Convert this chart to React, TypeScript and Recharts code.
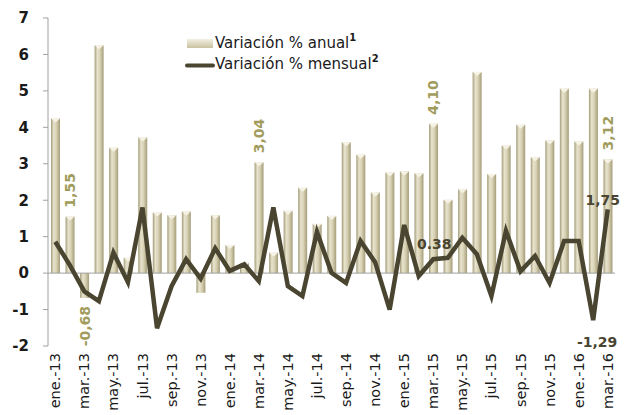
import { ComposedChart, Bar, Line, XAxis, YAxis, ReferenceLine, LabelList } from 'recharts';

const MONTHS = [
  'ene.-13', 'feb.-13', 'mar.-13', 'abr.-13', 'may.-13', 'jun.-13', 'jul.-13', 'ago.-13', 'sep.-13', 'oct.-13', 'nov.-13', 'dic.-13',
  'ene.-14', 'feb.-14', 'mar.-14', 'abr.-14', 'may.-14', 'jun.-14', 'jul.-14', 'ago.-14', 'sep.-14', 'oct.-14', 'nov.-14', 'dic.-14',
  'ene.-15', 'feb.-15', 'mar.-15', 'abr.-15', 'may.-15', 'jun.-15', 'jul.-15', 'ago.-15', 'sep.-15', 'oct.-15', 'nov.-15', 'dic.-15',
  'ene.-16', 'feb.-16', 'mar.-16',
];

// variación % anual (barras)
const ANUAL = [
  4.24, 1.55, -0.68, 6.25, 3.44, 0.42, 3.72, 1.66, 1.59, 1.69, -0.54, 1.59,
  0.77, 0.28, 3.04, 0.56, 1.71, 2.34, 1.35, 1.57, 3.59, 3.25, 2.21, 2.76,
  2.79, 2.74, 4.10, 2.01, 2.30, 5.52, 2.72, 3.50, 4.07, 3.18, 3.64, 5.06,
  3.61, 5.06, 3.12,
];

// variación % mensual (línea)
const MENSUAL = [
  0.86, 0.22, -0.50, -0.77, 0.56, -0.25, 1.80, -1.51, -0.36, 0.38, -0.15, 0.68,
  0.06, 0.24, -0.22, 1.80, -0.36, -0.63, 1.13, 0.01, -0.27, 0.88, 0.30, -1.00,
  1.32, -0.08, 0.38, 0.42, 0.97, 0.52, -0.63, 1.16, 0.05, 0.47, -0.27, 0.88,
  0.88, -1.29, 1.75,
];

const Y_TICKS = [-2, -1, 0, 1, 2, 3, 4, 5, 6, 7];

// etiquetas visibles
const ANUAL_LABEL_IDX = [1, 2, 14, 26, 38];
const ANUAL_LABEL_TXT = ['1,55', '-0,68', '3,04', '4,10', '3,12'];
const MENSUAL_LABEL_IDX = [26, 37, 38];
const MENSUAL_LABEL_TXT = ['0.38', '-1,29', '1,75'];

const data = MONTHS.map((m, i) => ({ mes: m, anual: ANUAL[i], mensual: MENSUAL[i] }));

const FONT = '"DejaVu Sans", Verdana, sans-serif';
const LINE_COLOR = '#4a4530';
const LABEL_OLIVE = '#a19c5c';

function CylBar(props: any) {
  const { x, y, width, height } = props;
  const top = Math.min(y, y + height);
  const h = Math.abs(height);
  if (!h) return null;
  const pos = height >= 0;
  return (
    <g>
      <rect x={x} y={top} width={width} height={h} fill="url(#barGrad)" />
      {pos && (
        <polygon
          points={`${x},${top} ${x + width},${top} ${x + width / 2},${top + 4}`}
          fill="#f6f3e6"
        />
      )}
    </g>
  );
}

function AnualLabel(props: any) {
  const { x, y, width, height, index } = props;
  const k = ANUAL_LABEL_IDX.indexOf(index);
  if (k < 0) return null;
  const cx = x + width / 2;
  const neg = ANUAL[index] < 0;
  const ty = neg ? Math.max(y, y + height) + 8 : Math.min(y, y + height) - 9;
  return (
    <text
      x={cx}
      y={ty}
      transform={`rotate(-90, ${cx}, ${ty})`}
      textAnchor={neg ? 'end' : 'start'}
      dominantBaseline="central"
      fontFamily={FONT}
      fontSize={14}
      fontWeight="bold"
      fill={LABEL_OLIVE}
    >
      {ANUAL_LABEL_TXT[k]}
    </text>
  );
}

function MensualLabel(props: any) {
  const { x, y, index } = props;
  const k = MENSUAL_LABEL_IDX.indexOf(index);
  if (k < 0) return null;
  const neg = MENSUAL[index] < 0;
  const last = index === MONTHS.length - 1;
  const tx = last ? x - 5 : neg ? x + 4 : x + 1;
  const ty = neg ? y + 27 : last ? y - 4 : y - 10;
  return (
    <text x={tx} y={ty} textAnchor="middle" fontFamily={FONT} fontSize={14} fontWeight="bold" fill={LINE_COLOR}>
      {MENSUAL_LABEL_TXT[k]}
    </text>
  );
}

function MonthTick(props: any) {
  const { x, y, payload } = props;
  return (
    <text
      x={x}
      y={y}
      transform={`rotate(-90, ${x}, ${y})`}
      textAnchor="end"
      dominantBaseline="central"
      fontFamily={FONT}
      fontSize={14.5}
      fill="#1a1a1a"
    >
      {payload.value}
    </text>
  );
}

function Legend() {
  return (
    <svg width={628} height={80} style={{ position: 'absolute', left: 0, top: 0, pointerEvents: 'none' }}>
      <defs>
        <linearGradient id="legGrad" x1="0" y1="0" x2="0" y2="1">
          <stop offset="0" stopColor="#f3f0e2" />
          <stop offset="1" stopColor="#c9c1a0" />
        </linearGradient>
      </defs>
      <rect x={187} y={39} width={26} height={9} fill="url(#legGrad)" />
      <text x={215} y={48} fontFamily={FONT} fontSize={15} fill="#1a1a1a">
        Variación % anual
        <tspan fontSize={10} fontWeight="bold" dy={-7}>1</tspan>
      </text>
      <line x1={187} y1={65.5} x2={213} y2={65.5} stroke={LINE_COLOR} strokeWidth={4} strokeLinecap="round" />
      <text x={215} y={69} fontFamily={FONT} fontSize={15} fill="#1a1a1a">
        Variación % mensual
        <tspan fontSize={10} fontWeight="bold" dy={-7}>2</tspan>
      </text>
    </svg>
  );
}

export default function App() {
  return (
    <div style={{ position: 'absolute', left: 0, top: 0, width: 628, height: 415, background: '#fff' }}>
      <ComposedChart width={628} height={415} data={data} margin={{ top: 18, right: 13, bottom: 0, left: 0 }} barSize={9}>
        <defs>
          <linearGradient id="barGrad" x1="0" y1="0" x2="1" y2="0">
            <stop offset="0" stopColor="#a39b77" />
            <stop offset="0.3" stopColor="#e7e3ce" />
            <stop offset="0.6" stopColor="#d8d1b3" />
            <stop offset="1" stopColor="#a49c79" />
          </linearGradient>
        </defs>
        <XAxis
          dataKey="mes"
          interval={1}
          axisLine={false}
          tickLine={false}
          tickSize={0}
          tickMargin={7}
          height={69}
          tick={<MonthTick />}
        />
        <YAxis
          domain={[-2, 7]}
          ticks={Y_TICKS}
          width={48}
          axisLine={{ stroke: '#a0a0a0' }}
          tickLine={{ stroke: '#a0a0a0' }}
          tickSize={5}
          tickMargin={14}
          tick={{ fontFamily: FONT, fontSize: 15, fontWeight: 'bold', fill: '#1a1a1a' }}
        />
        <ReferenceLine y={0} stroke="#a0a0a0" strokeWidth={1} />
        <Bar dataKey="anual" shape={<CylBar />} isAnimationActive={false}>
          <LabelList dataKey="anual" content={<AnualLabel />} />
        </Bar>
        <Line
          dataKey="mensual"
          type="linear"
          stroke={LINE_COLOR}
          strokeWidth={4.5}
          dot={false}
          activeDot={false}
          isAnimationActive={false}
        >
          <LabelList dataKey="mensual" content={<MensualLabel />} />
        </Line>
      </ComposedChart>
      <Legend />
    </div>
  );
}
